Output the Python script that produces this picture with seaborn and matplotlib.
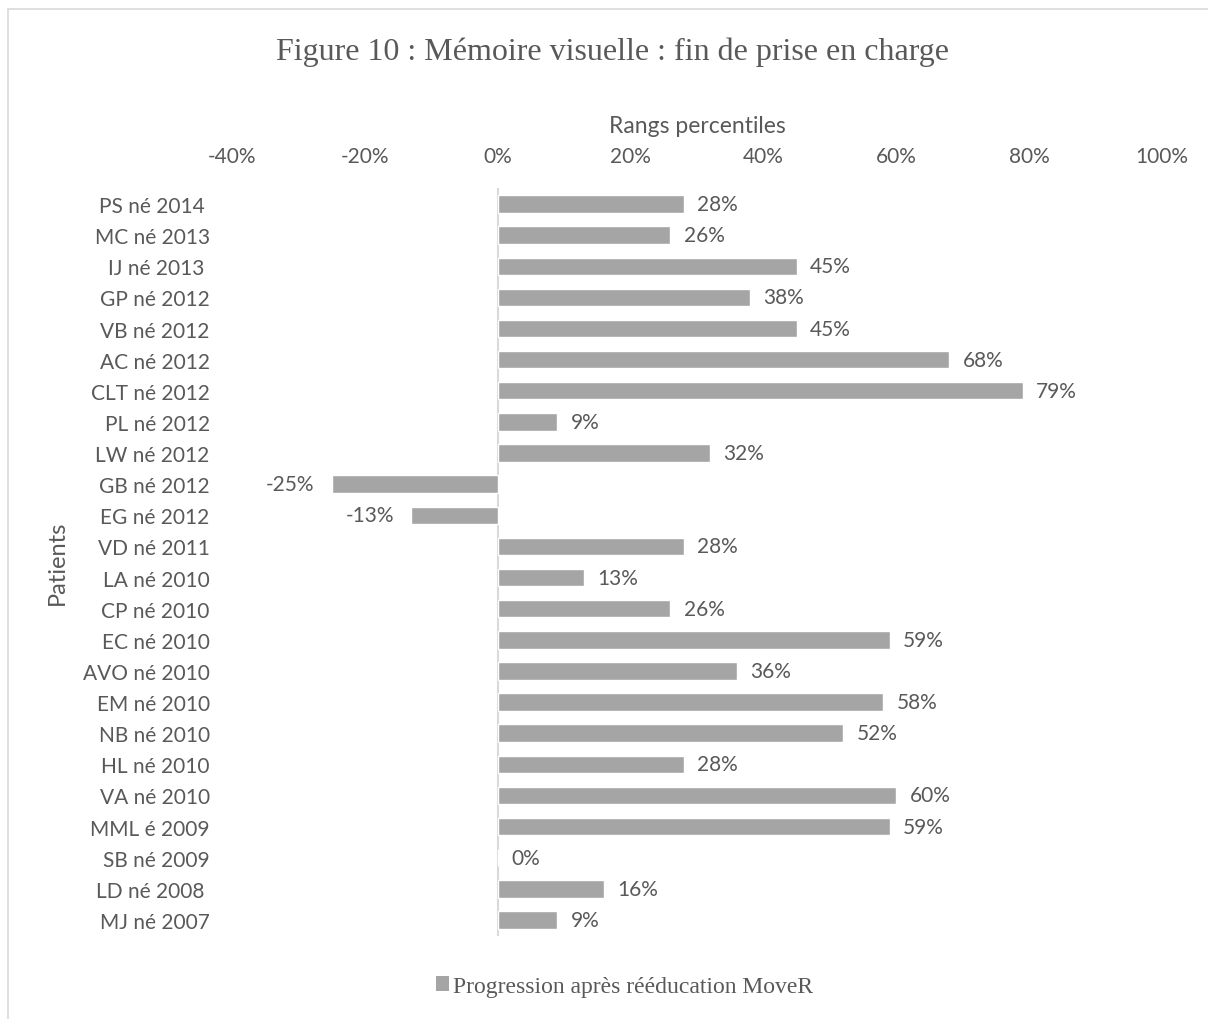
"""
Mémoire visuelle : fin de prise en charge (barres horizontales)
"""

import matplotlib.pyplot as plt
from matplotlib.patches import Rectangle, Patch
import seaborn as sns
import pandas as pd

patients = ["PS né 2014 ", "MC né 2013", "IJ né 2013 ", "GP né 2012",
            "VB né 2012", "AC né 2012", "CLT né 2012", "PL né 2012",
            "LW né 2012", "GB né 2012", "EG né 2012", "VD né 2011",
            "LA né 2010", "CP né 2010", "EC né 2010", "AVO né 2010",
            "EM né 2010", "NB né 2010", "HL né 2010", "VA né 2010",
            "MML é 2009", "SB né 2009", "LD né 2008 ", "MJ né 2007"]
progression = [28, 26, 45, 38, 45, 68, 79, 9, 32, -25, -13, 28, 13, 26,
               59, 36, 58, 52, 28, 60, 59, 0, 16, 9]
xticks = [-40, -20, 0, 20, 40, 60, 80, 100]

df = pd.DataFrame({'Patient': patients, 'Progression': progression})

sns.set_style('white')
plt.rcParams['font.family'] = ['Lato', 'DejaVu Sans']

grey_txt = '#595959'
bar_col = '#a5a5a5'

fig = plt.figure(figsize=(12.08, 10.2), dpi=100)
ax = fig.add_axes([0.192, 0.0818, 0.770, 0.7325])

sns.barplot(data=df, x='Progression', y='Patient', orient='h',
            color=bar_col, width=0.56, saturation=1, ax=ax)

ax.set_xlim(-40, 100)
ax.set_xticks(xticks)
ax.set_xticklabels([f'{t}%' for t in xticks])
ax.xaxis.tick_top()
ax.xaxis.set_label_position('top')
ax.tick_params(axis='both', length=0, labelsize=15, colors=grey_txt)
ax.tick_params(axis='x', pad=16)
ax.tick_params(axis='y', pad=16)
ax.set_xlabel('Rangs percentiles', fontsize=16.5, color=grey_txt)
ax.xaxis.set_label_coords(0.5, 1.075)
ax.set_ylabel('Patients', fontsize=17, color=grey_txt)
ax.yaxis.set_label_coords(-0.176, 0.5)
for s in ax.spines.values():
    s.set_visible(False)
ax.axvline(0, color='#d9d9d9', lw=1.5, zorder=0)

# étiquettes de données
for i, v in enumerate(progression):
    if v < 0:
        ax.text(v - 2.6, i, f'{v}%', ha='right', va='center',
                fontsize=15, color=grey_txt)
    else:
        ax.text(v + 2.0, i, f'{v}%', ha='left', va='center',
                fontsize=15, color=grey_txt)

fig.text(0.507, 0.949, 'Figure 10 : Mémoire visuelle : fin de prise en charge',
         ha='center', va='center', fontsize=23, color=grey_txt,
         family='Liberation Serif')

handle = Patch(facecolor=bar_col, edgecolor='none')
fig.legend([handle], ['Progression après rééducation MoveR'],
           loc='center', bbox_to_anchor=(0.517, 0.032), frameon=False,
           prop={'family': 'Liberation Serif', 'size': 17},
           labelcolor=grey_txt, handlelength=0.55, handleheight=0.55,
           handletextpad=0.2)

fig.patches.append(Rectangle((8 / 1208, -0.05), 1.1, 1 - 10 / 1020 + 0.05,
                             transform=fig.transFigure, fill=False,
                             edgecolor='#d9d9d9', lw=1.2))

plt.savefig('out.png', dpi=100)
